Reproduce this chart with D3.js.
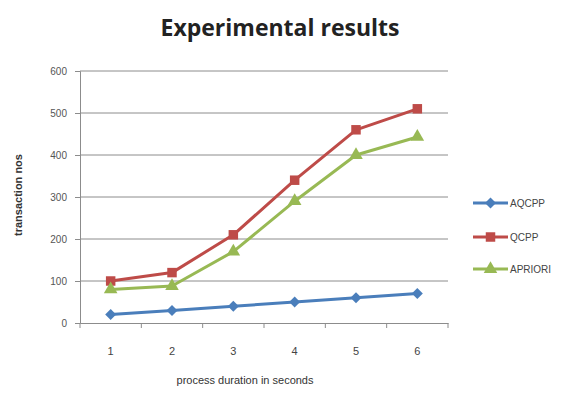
<!DOCTYPE html>
<html><head><meta charset="utf-8">
<script src="https://cdn.jsdelivr.net/npm/d3@7"></script>
<style>body{margin:0;background:#fff}svg{display:block}</style>
</head><body>
<script>
const categories = ["1","2","3","4","5","6"];
const seriesNames = ["AQCPP","QCPP","APRIORI"];
const aqcpp = [20, 30, 40, 50, 60, 70];
const qcpp = [100, 120, 210, 340, 460, 510];
const apriori = [80, 88, 170, 290, 400, 443];
const yTicks = [0, 100, 200, 300, 400, 500, 600];

const colors = ["#4a7ebb", "#be4b48", "#98b954"];
const symbols = [d3.symbolSquare, d3.symbolSquare, d3.symbolTriangle];
const symSizes = [60, 90, 80];
const symRot = [45, 0, 0];
const seriesData = [aqcpp, qcpp, apriori];

const W = 563, H = 401;
const m = {left: 80, right: 115, top: 71, bottom: 78};
const svg = d3.select("body").append("svg").attr("width", W).attr("height", H);

const x = d3.scaleBand().domain(categories).range([m.left, W - m.right]);
const y = d3.scaleLinear().domain([0, 600]).range([H - m.bottom, m.top]);
const font = "'Liberation Sans', Arial, sans-serif";

// title
svg.append("text").attr("x", 280).attr("y", 36).attr("text-anchor", "middle")
  .attr("font-family", "'Open Sans', sans-serif").attr("font-weight", "bold")
  .attr("font-size", 23).attr("fill", "#222").text("Experimental results");

// gridlines
svg.append("g").selectAll("line").data(yTicks.filter(d => d > 0)).join("line")
  .attr("x1", m.left).attr("x2", W - m.right)
  .attr("y1", d => y(d)).attr("y2", d => y(d))
  .attr("stroke", "#8c8c8c").attr("stroke-width", 1);

// y axis
const yAxis = svg.append("g").attr("transform", `translate(${m.left},0)`)
  .call(d3.axisLeft(y).tickValues(yTicks).tickSize(5).tickPadding(8));
yAxis.select(".domain").attr("stroke", "#8c8c8c");
yAxis.selectAll(".tick line").attr("stroke", "#8c8c8c");
yAxis.selectAll("text").attr("font-family", font).attr("font-size", 10).attr("fill", "#555");

// x axis
const xAxis = svg.append("g").attr("transform", `translate(0,${y(0)})`)
  .call(d3.axisBottom(x).tickSize(0).tickPadding(24));
xAxis.select(".domain").attr("stroke", "#8c8c8c");
xAxis.selectAll("text").attr("font-family", font).attr("font-size", 11).attr("fill", "#444");
// boundary ticks
const bounds = categories.map(c => x(c)).concat([x.range()[1]]);
xAxis.append("g").selectAll("line").data(bounds).join("line")
  .attr("x1", d => d).attr("x2", d => d).attr("y1", 0).attr("y2", 5)
  .attr("stroke", "#8c8c8c");

// axis titles
svg.append("text").attr("x", 245).attr("y", 384).attr("text-anchor", "middle")
  .attr("font-family", font).attr("font-size", 11).attr("fill", "#333")
  .text("process duration in seconds");
svg.append("text").attr("transform", "translate(22,195) rotate(-90)")
  .attr("text-anchor", "middle").attr("font-family", font).attr("font-weight", "bold")
  .attr("font-size", 11).attr("fill", "#333").text("transaction nos");

// series
const cx = c => x(c) + x.bandwidth() / 2;
const line = d3.line().x((d, i) => cx(categories[i])).y(d => y(d));
seriesData.forEach((vals, s) => {
  svg.append("path").datum(vals).attr("d", line).attr("fill", "none")
    .attr("stroke", colors[s]).attr("stroke-width", 3).attr("stroke-linejoin", "round");
  svg.append("g").selectAll("path").data(vals).join("path")
    .attr("d", d3.symbol().type(symbols[s]).size(symSizes[s]))
    .attr("transform", (d, i) => `translate(${cx(categories[i])},${y(d)}) rotate(${symRot[s]})`)
    .attr("fill", colors[s]);
});

// legend
const legY = [203, 237, 269];
seriesNames.forEach((n, s) => {
  const g = svg.append("g").attr("transform", `translate(473,${legY[s]})`);
  g.append("line").attr("x1", 0).attr("x2", 35).attr("stroke", colors[s]).attr("stroke-width", 3);
  g.append("path").attr("d", d3.symbol().type(symbols[s]).size(symSizes[s])())
    .attr("transform", `translate(17.5,0) rotate(${symRot[s]})`).attr("fill", colors[s]);
  g.append("text").attr("x", 37).attr("y", 4).attr("font-family", font)
    .attr("font-size", 10).attr("fill", "#444").text(n);
});
</script>
</body></html>
